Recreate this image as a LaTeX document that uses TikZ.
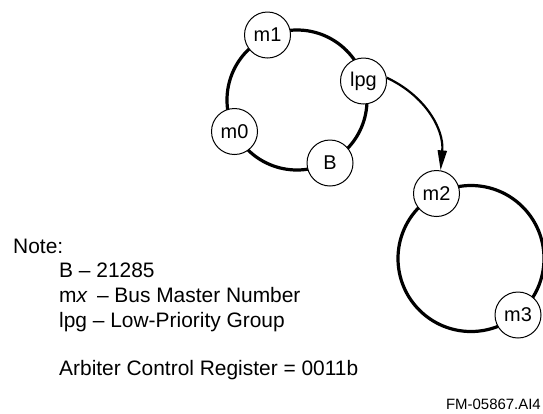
\documentclass[tikz,border=0pt]{standalone}
\usepackage{fontspec}
\setmainfont{Liberation Sans}
\usetikzlibrary{arrows.meta}
\begin{document}
\begin{tikzpicture}[x=1bp,y=1bp,
  ring/.style={line width=3.2bp},
  mnode/.style={circle,draw,fill=white,line width=1bp,minimum size=46bp,inner sep=0pt,font=\fontsize{20}{24}\selectfont},
  arr/.style={line width=2.2bp,-{Triangle[length=20bp,width=9bp]}},
  notetext/.style={anchor=base west,inner sep=0pt,font=\fontsize{21}{25}\selectfont},
  fmtext/.style={anchor=base east,inner sep=0pt,font=\fontsize{15}{18}\selectfont}]
\useasboundingbox (0,0) rectangle (543,-413);
\coordinate (c1) at (297,-100);
\coordinate (c2) at (471,-258.5);
\draw[ring] (c1) circle[radius=70];
\draw[ring] (c2) circle[radius=73];
\node[mnode] (m1) at (267.5,-35) {m1};
\node[mnode] (lpg) at (363.5,-81) {lpg};
\node[mnode] (m0) at (234.5,-131.5) {m0};
\node[mnode] (B) at (330,-163) {B};
\node[mnode] (m2) at (436.5,-193.5) {m2};
\node[mnode] (m3) at (518,-315) {m3};
\draw[arr] (lpg.8) to[out=-25,in=85] (m2.80);
\node[notetext] (note) at (13,-253) {Note:};
\node[notetext] (n1) at (59,-277) {B – 21285};
\node[notetext] (n2) at (59,-302) {m\textit{x}\, – Bus Master Number};
\node[notetext] (n3) at (59,-327) {lpg – Low-Priority Group};
\node[notetext] (n4) at (59,-375) {Arbiter Control Register = 0011b};
\node[fmtext] (fm) at (541,-409) {FM-05867.AI4};
\end{tikzpicture}
\end{document}
